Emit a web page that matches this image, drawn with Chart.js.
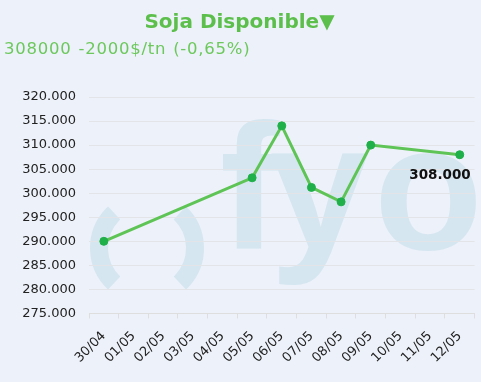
<!DOCTYPE html>
<html>
<head>
<meta charset="utf-8">
<script src="https://cdn.jsdelivr.net/npm/chart.js@4"></script>
<style>
  html, body { margin: 0; padding: 0; background: #edf1f9; }
  #wrap { width: 481px; height: 382px; position: relative; }
</style>
</head>
<body>
<div id="wrap"><canvas id="c" width="481" height="382"></canvas></div>
<script>
const categories = ['30/04','01/05','02/05','03/05','04/05','05/05','06/05','07/05','08/05','09/05','10/05','11/05','12/05'];
const prices = [290000, null, null, null, null, 303200, 314000, 301200, 298200, 310000, null, null, 308000];
const titleText = 'Soja Disponible\u25BC';
const subtitleText = '308000 -2000$/tn (-0,65%)';
const yMin = 275000, yMax = 320000, yStep = 5000;

function fmt(v) {
  return String(Math.round(v)).replace(/\B(?=(\d{3})+(?!\d))/g, '.');
}

const watermark = {
  id: 'watermark',
  beforeDraw(chart) {
    const ctx = chart.ctx;
    ctx.save();
    ctx.fillStyle = '#edf1f9';
    ctx.fillRect(0, 0, chart.width, chart.height);
    ctx.strokeStyle = '#d5e6f1';
    ctx.fillStyle = '#d5e6f1';
    ctx.lineWidth = 18;
    ctx.lineCap = 'butt';
    ctx.beginPath();
    ctx.arc(147, 248, 48, 0.74 * Math.PI, 1.26 * Math.PI);
    ctx.stroke();
    ctx.beginPath();
    ctx.arc(147, 248, 48, -0.26 * Math.PI, 0.26 * Math.PI);
    ctx.stroke();
    ctx.font = 'bold 178px "Liberation Sans", Arial, sans-serif';
    ctx.textBaseline = 'alphabetic';
    ctx.fillText('f', 220, 248);
    ctx.fillText('y', 270, 248);
    ctx.fillText('o', 374, 249);
    ctx.restore();
  }
};

const subtitleDraw = {
  id: 'subtitleDraw',
  afterDraw(chart) {
    const ctx = chart.ctx;
    ctx.save();
    ctx.font = '16.5px "DejaVu Sans", Verdana, sans-serif';
    ctx.fillStyle = '#6cc85c';
    ctx.textAlign = 'left';
    ctx.textBaseline = 'alphabetic';
    try { ctx.letterSpacing = '0.75px'; ctx.wordSpacing = '1px'; } catch (e) {}
    ctx.fillText(subtitleText, 4, 54);
    ctx.restore();
  }
};

const lastLabel = {
  id: 'lastLabel',
  afterDatasetsDraw(chart) {
    const meta = chart.getDatasetMeta(0);
    let idx = -1;
    for (let i = prices.length - 1; i >= 0; i--) { if (prices[i] !== null) { idx = i; break; } }
    if (idx < 0) return;
    const pt = meta.data[idx];
    const ctx = chart.ctx;
    ctx.save();
    ctx.font = 'bold 13.5px "DejaVu Sans", Verdana, sans-serif';
    ctx.fillStyle = '#111';
    ctx.textAlign = 'right';
    ctx.textBaseline = 'middle';
    ctx.fillText(fmt(prices[idx]), pt.x + 11, pt.y + 21);
    ctx.restore();
  }
};

new Chart(document.getElementById('c'), {
  type: 'line',
  data: {
    labels: categories,
    datasets: [{
      data: prices,
      spanGaps: true,
      borderColor: '#5ec455',
      borderWidth: 3,
      pointRadius: 4,
      pointBackgroundColor: '#1fb04a',
      pointBorderColor: '#1fb04a',
      pointBorderWidth: 1,
      tension: 0
    }]
  },
  options: {
    responsive: false,
    animation: false,
    devicePixelRatio: 1,
    layout: { padding: { left: 4, right: 6, bottom: 6, top: 0 } },
    plugins: {
      legend: { display: false },
      tooltip: { enabled: false },
      title: {
        display: true,
        text: titleText,
        color: '#5cbf4c',
        font: { family: '"DejaVu Sans", Verdana, sans-serif', size: 20, weight: 'bold' },
        padding: { top: 11, bottom: 62 }
      },
      subtitle: { display: false }
    },
    scales: {
      x: {
        type: 'category',
        offset: true,
        grid: { display: true, drawOnChartArea: false, drawTicks: true, tickLength: 5, color: '#dedede', offset: true },
        border: { display: true, color: '#dedede' },
        ticks: {
          color: '#222',
          font: { family: '"DejaVu Sans", Verdana, sans-serif', size: 13 },
          minRotation: 45, maxRotation: 45,
          autoSkip: false,
          padding: 10
        }
      },
      y: {
        min: yMin, max: yMax,
        afterFit(scale) { scale.width = 85; },
        grid: { color: '#e2e4e8', drawTicks: false },
        border: { display: false },
        ticks: {
          stepSize: yStep,
          color: '#222',
          padding: 13,
          font: { family: '"DejaVu Sans", Verdana, sans-serif', size: 13 },
          callback: (v) => fmt(v)
        }
      }
    }
  },
  plugins: [watermark, subtitleDraw, lastLabel]
});
</script>
</body>
</html>
